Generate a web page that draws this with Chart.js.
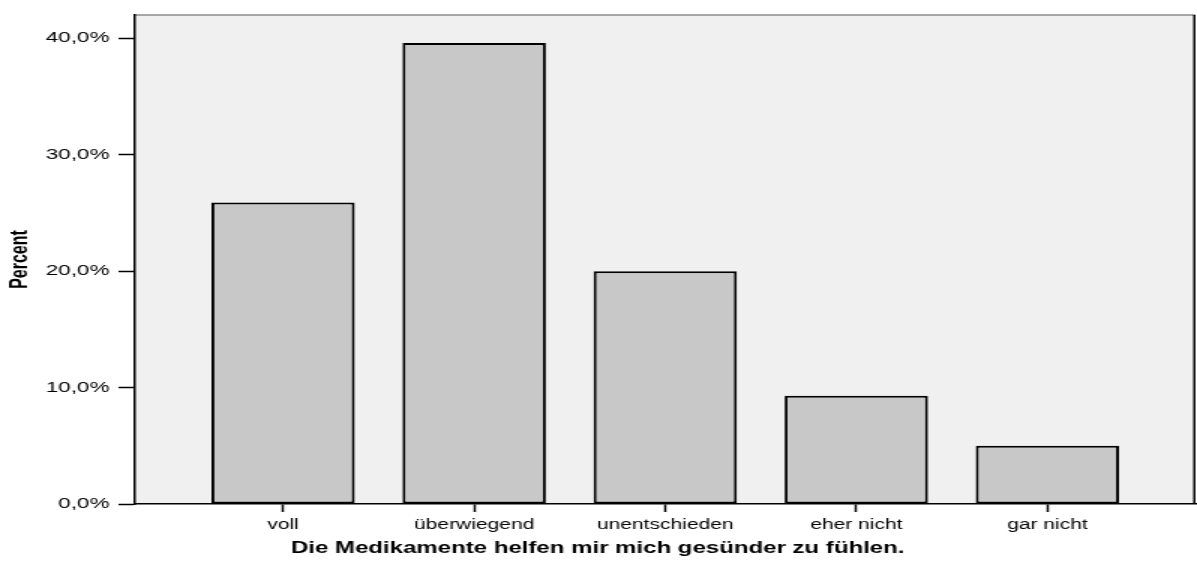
<!DOCTYPE html>
<html>
<head>
<meta charset="utf-8">
<script src="https://cdn.jsdelivr.net/npm/chart.js@4/dist/chart.umd.min.js"></script>
<style>
  html, body { margin: 0; padding: 0; background: #fff; overflow: hidden; }
  /* the reference is a horizontally stretched SPSS export, so stretch the canvas the same way */
  #myChart { display: block; transform: scaleX(1.5); transform-origin: 0 0; }
</style>
</head>
<body>
<canvas id="myChart" width="798" height="561"></canvas>
<script>
const categories = ["voll", "überwiegend", "unentschieden", "eher nicht", "gar nicht"];
const percents = [25.9, 39.6, 20.0, 9.3, 5.0];
const yTicks = [0, 10, 20, 30, 40];
const xTitle = "Die Medikamente helfen mir mich gesünder zu fühlen.";
const yTitle = "Percent";

const fontFamily = "'Liberation Sans', Arial, sans-serif";

// plot background + top/right frame
const plotFrame = {
    id: 'plotFrame',
    beforeDraw(chart){
        const {ctx, chartArea: a} = chart;
        ctx.save();
        ctx.fillStyle = '#f0f0f0';
        ctx.fillRect(a.left, a.top, a.right - a.left, a.bottom - a.top);
        ctx.lineWidth = 1.5;
        ctx.strokeStyle = '#8c8c8c';
        ctx.beginPath();
        ctx.moveTo(a.left, a.top);
        ctx.lineTo(a.right, a.top);
        ctx.stroke();
        ctx.strokeStyle = '#000';
        ctx.beginPath();
        ctx.moveTo(a.right - 0.75, a.top);
        ctx.lineTo(a.right - 0.75, a.bottom);
        ctx.stroke();
        ctx.restore();
    }
};

const ctx = document.getElementById("myChart").getContext('2d');

window.myChart = new Chart(ctx, {
    type: 'bar',
    data: {
        datasets: [{
            label: yTitle,
            data: percents.map((v, i) => ({x: i, y: v})),
            backgroundColor: '#c8c8c8',
            borderColor: '#000',
            borderWidth: 2,
            borderSkipped: false,
            barPercentage: 0.75,
            categoryPercentage: 1
        }]
    },
    options: {
        responsive: false,
        devicePixelRatio: 1,
        animation: false,
        layout: { padding: { top: 12, right: 1, left: 0, bottom: 3 } },
        plugins: {
            legend: { display: false },
            tooltip: { enabled: false },
            title: {
                display: true,
                text: xTitle,
                position: 'bottom',
                color: '#000',
                font: { family: fontFamily, size: 16, weight: 'bold' },
                padding: { top: 0, bottom: 0 }
            }
        },
        scales: {
            x: {
                type: 'linear',
                offset: false,
                min: -0.775,
                max: categories.length - 1 + 0.775,
                afterBuildTicks(scale){
                    scale.ticks = categories.map((_, i) => ({value: i}));
                },
                afterFit(scale){ scale.height = 34.8; },
                ticks: {
                    stepSize: 1,
                    includeBounds: false,
                    autoSkip: false,
                    maxRotation: 0,
                    padding: 5,
                    color: '#000',
                    font: { family: fontFamily, size: 14 },
                    callback: (v) => categories[v]
                },
                grid: {
                    offset: false,
                    drawOnChartArea: false,
                    drawTicks: true,
                    tickLength: 8,
                    tickColor: '#000',
                    tickWidth: 1.5
                },
                border: { display: true, color: '#000', width: 1.5 }
            },
            y: {
                min: 0,
                max: 42,
                afterBuildTicks(scale){
                    scale.ticks = yTicks.map(v => ({value: v}));
                },
                afterFit(scale){ scale.width = 90; },
                ticks: {
                    includeBounds: false,
                    padding: 6,
                    color: '#000',
                    font: { family: fontFamily, size: 15 },
                    callback: (v) => v.toFixed(1).replace('.', ',') + '%'
                },
                grid: {
                    drawOnChartArea: false,
                    drawTicks: true,
                    tickLength: 11,
                    tickColor: '#000',
                    tickWidth: 1.5
                },
                border: { display: true, color: '#000', width: 1.5 },
                title: {
                    display: true,
                    text: yTitle,
                    color: '#000',
                    font: { family: "'Liberation Sans Narrow', " + fontFamily, size: 16, weight: 'bold' },
                    padding: { top: 4, bottom: 0 }
                }
            }
        }
    },
    plugins: [plotFrame]
});
</script>
</body>
</html>
